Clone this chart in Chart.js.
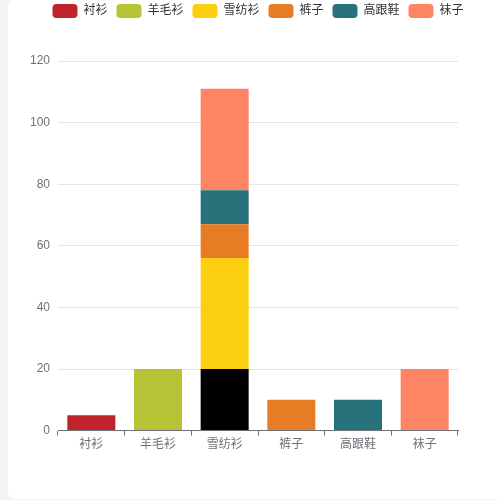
<!DOCTYPE html>
<html>
<head>
<meta charset="utf-8">
<script src="https://cdn.jsdelivr.net/npm/chart.js@4"></script>
<style>
  html, body { margin: 0; padding: 0; background: #f3f4f8; overflow: hidden; }
  #card { position: absolute; left: 8px; top: 0; width: 500px; height: 499px; background: #fff; border-radius: 8px; }
  #wrap { position: absolute; left: 0; top: -5px; width: 500px; height: 505px; }
</style>
</head>
<body>
<div id="card"></div>
<div id="wrap"><canvas id="chart"></canvas></div>
<script>
// Categories on the x axis and the series names (same words).
const categories = [ '衬衫', '羊毛衫', '雪纺衫', '裤子', '高跟鞋', '袜子' ];
const seriesNames = [ '衬衫', '羊毛衫', '雪纺衫', '裤子', '高跟鞋', '袜子' ];
const seriesColors = [ '#c1232b', '#b5c334', '#fcce10', '#e87c25', '#27727b', '#fe8463' ];

// Values per series, one per category (null = no bar).
const shirtValues = [ 5, null, null, null, null, null ];
const woolValues = [ null, 20, 20, null, null, null ];
const chiffonValues = [ null, null, 36, null, null, null ];
const pantsValues = [ null, null, 11, 10, null, null ];
const heelsValues = [ null, null, 11, null, 10, null ];
const socksValues = [ null, null, 33, null, null, 20 ];

const yTicks = [ 0, 20, 40, 60, 80, 100, 120 ];

const allValues = [ shirtValues, woolValues, chiffonValues, pantsValues, heelsValues, socksValues ];

// One item in the wool series is drawn black in the picture.
function colorsFor( i ) {
    if ( i === 1 ) {
        return categories.map( function( c, j ) { return j === 2 ? '#000000' : seriesColors[ i ]; });
    }
    return seriesColors[ i ];
}

const datasets = seriesNames.map( function( name, i ) {
    return {
        label: name,
        data: allValues[ i ],
        backgroundColor: colorsFor( i ),
        borderWidth: 0,
        stack: 'total',
        barPercentage: 0.72,
        categoryPercentage: 1
    };
});

const font = "'Liberation Sans', 'Noto Sans CJK SC', sans-serif";

// Leave a gap under the legend.
const legendGap = {
    id: 'legendGap',
    beforeInit: function( chart ) {
        const fit = chart.legend.fit;
        chart.legend.fit = function() {
            fit.call( this );
            this.height += 33;
        };
    }
};

new Chart( document.getElementById( 'chart' ), {
    type: 'bar',
    data: { labels: categories, datasets: datasets },
    plugins: [ legendGap ],
    options: {
        responsive: true,
        maintainAspectRatio: false,
        animation: false,
        layout: { padding: { left: 16, right: 0, top: 0, bottom: 46 } },
        plugins: {
            tooltip: { enabled: false },
            legend: {
                position: 'top',
                labels: {
                    boxWidth: 25,
                    boxHeight: 14,
                    useBorderRadius: true,
                    borderRadius: 4,
                    padding: 9,
                    color: '#333',
                    font: { family: font, size: 12 },
                    generateLabels: function( chart ) {
                        return seriesNames.map( function( name, i ) {
                            return {
                                text: name,
                                fillStyle: seriesColors[ i ],
                                strokeStyle: seriesColors[ i ],
                                lineWidth: 0,
                                borderRadius: 4,
                                fontColor: '#333',
                                datasetIndex: i,
                                hidden: false
                            };
                        });
                    }
                }
            }
        },
        scales: {
            x: {
                stacked: true,
                grid: { display: true, drawOnChartArea: false, drawTicks: true, tickLength: 5, color: '#6e7079', offset: true },
                border: { display: true, color: '#6e7079' },
                ticks: { color: '#6e7079', padding: 2, font: { family: font, size: 12 } }
            },
            y: {
                stacked: true,
                min: 0,
                max: 120,
                afterFit: function( scale ) { scale.width = 42; },
                afterBuildTicks: function( scale ) {
                    scale.ticks = yTicks.map( function( v ) { return { value: v }; });
                },
                grid: { color: '#e0e6f1', drawTicks: false },
                border: { display: false },
                ticks: { color: '#6e7079', padding: 8, font: { family: font, size: 12 } }
            },
            // Empty right axis, only keeps room on the right side.
            yRight: {
                position: 'right',
                display: true,
                afterFit: function( scale ) { scale.width = 42; },
                grid: { display: false },
                border: { display: false },
                ticks: { display: false }
            }
        }
    }
});
</script>
</body>
</html>
